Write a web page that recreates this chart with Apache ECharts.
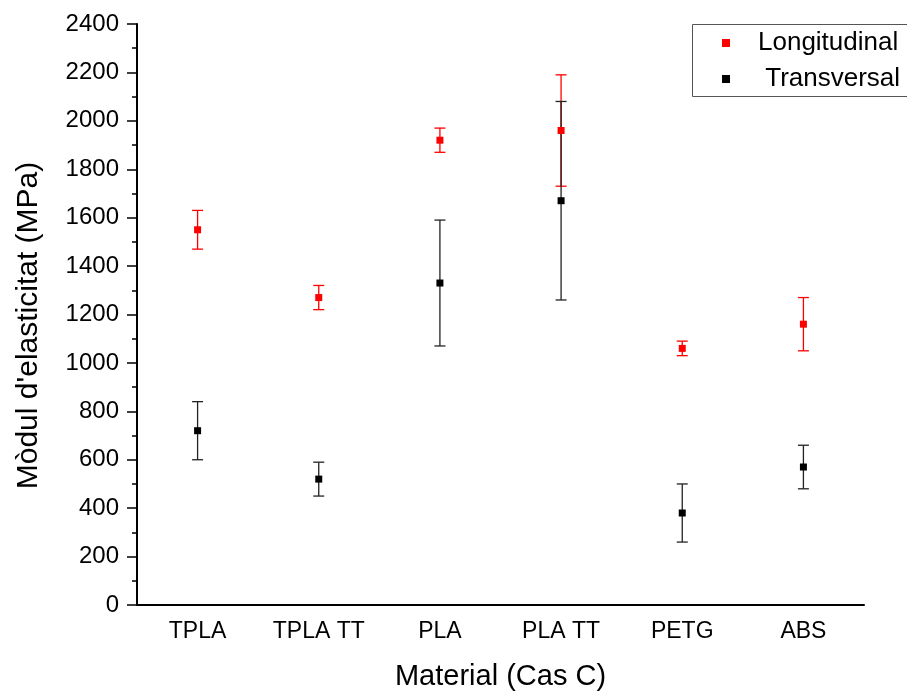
<!DOCTYPE html>
<html>
<head>
<meta charset="utf-8">
<script src="https://cdn.jsdelivr.net/npm/echarts@6/dist/echarts.min.js"></script>
<style>html,body{margin:0;padding:0;background:#fff;overflow:hidden;}#c{width:907px;height:696px;}</style>
</head>
<body>
<div id="c"></div>
<script>
var categories = ['TPLA', 'TPLA TT', 'PLA', 'PLA TT', 'PETG', 'ABS'];
var longValues = [1550, 1270, 1920, 1960, 1060, 1160];
var longLow    = [1470, 1220, 1870, 1730, 1030, 1050];
var longHigh   = [1630, 1320, 1970, 2190, 1090, 1270];
var transValues = [720, 520, 1330, 1670, 380, 570];
var transLow    = [600, 450, 1070, 1260, 260, 480];
var transHigh   = [840, 590, 1590, 2080, 500, 660];
var yTicks = {min: 0, max: 2400, interval: 200};

var FONT = 'Liberation Sans';
function errData(lo, hi) { return lo.map(function (v, i) { return [i, v, hi[i]]; }); }
function errRender(color) {
  return function (params, api) {
    var x = api.value(0);
    var p1 = api.coord([x, api.value(1)]);
    var p2 = api.coord([x, api.value(2)]);
    var hw = 5.5;
    var st = {stroke: color, lineWidth: 1.3};
    return {type: 'group', children: [
      {type: 'line', shape: {x1: p1[0], y1: p1[1], x2: p2[0], y2: p2[1]}, style: st},
      {type: 'line', shape: {x1: p1[0] - hw, y1: p1[1], x2: p1[0] + hw, y2: p1[1]}, style: st},
      {type: 'line', shape: {x1: p2[0] - hw, y1: p2[1], x2: p2[0] + hw, y2: p2[1]}, style: st}
    ]};
  };
}
var chart = echarts.init(document.getElementById('c'), null, {renderer: 'canvas'});
chart.setOption({
  animation: false,
  backgroundColor: '#fff',
  grid: {left: 137, right: 43, top: 24, bottom: 90},
  graphic: [
    {type: 'line', silent: true, shape: {x1: 692.5, y1: 24.5, x2: 907, y2: 24.5}, style: {stroke: '#555', lineWidth: 1}},
    {type: 'line', silent: true, shape: {x1: 692.5, y1: 96.5, x2: 907, y2: 96.5}, style: {stroke: '#555', lineWidth: 1}},
    {type: 'line', silent: true, shape: {x1: 692.5, y1: 24.5, x2: 692.5, y2: 96.5}, style: {stroke: '#555', lineWidth: 1}}
  ],
  legend: {
    orient: 'vertical', left: 692, top: 24,
    padding: [6, 0, 4, 30], itemGap: 10, borderWidth: 0,
    icon: 'rect', itemWidth: 8, itemHeight: 8,
    data: ['Longitudinal', 'Transversal'],
    formatter: function (n) { return n === 'Transversal' ? ' ' + n : n; },
    textStyle: {fontFamily: FONT, fontSize: 26, color: '#000', padding: [0, 0, 0, 23]}
  },
  xAxis: {
    type: 'category', data: categories, boundaryGap: true,
    axisLine: {lineStyle: {color: '#000', width: 2}},
    axisTick: {alignWithLabel: true, length: 10, lineStyle: {color: '#000', width: 1.5}},
    axisLabel: {fontFamily: FONT, fontSize: 23, color: '#000', margin: 15},
    splitLine: {show: false},
    name: 'Material (Cas C)', nameLocation: 'middle', nameGap: 57,
    nameTextStyle: {fontFamily: FONT, fontSize: 29, color: '#000'}
  },
  yAxis: {
    type: 'value', min: yTicks.min, max: yTicks.max, interval: yTicks.interval,
    axisLine: {show: true, lineStyle: {color: '#000', width: 2}},
    axisTick: {show: true, length: 10, lineStyle: {color: '#000', width: 1.5}},
    minorTick: {show: true, splitNumber: 2, length: 5, lineStyle: {color: '#000', width: 1.5}},
    axisLabel: {fontFamily: FONT, fontSize: 24, color: '#000', margin: 18, formatter: function (v) { return String(v); }},
    splitLine: {show: false},
    name: "Mòdul d'elasticitat (MPa)", nameLocation: 'middle', nameGap: 93, nameRotate: 90,
    nameTextStyle: {fontFamily: FONT, fontSize: 30, color: '#000', padding: [0, 22, 0, 0]}
  },
  series: [
    {type: 'custom', name: 'LongErr', data: errData(longLow, longHigh), renderItem: errRender('#ff0000'), z: 1, silent: true},
    {type: 'custom', name: 'TransErr', data: errData(transLow, transHigh), renderItem: errRender('#222'), z: 1, silent: true},
    {type: 'scatter', name: 'Longitudinal', data: longValues, symbol: 'rect', symbolSize: 7, itemStyle: {color: '#ff0000', opacity: 1}, z: 3},
    {type: 'scatter', name: 'Transversal', data: transValues, symbol: 'rect', symbolSize: 7, itemStyle: {color: '#000', opacity: 1}, z: 3}
  ]
});
</script>
</body>
</html>
